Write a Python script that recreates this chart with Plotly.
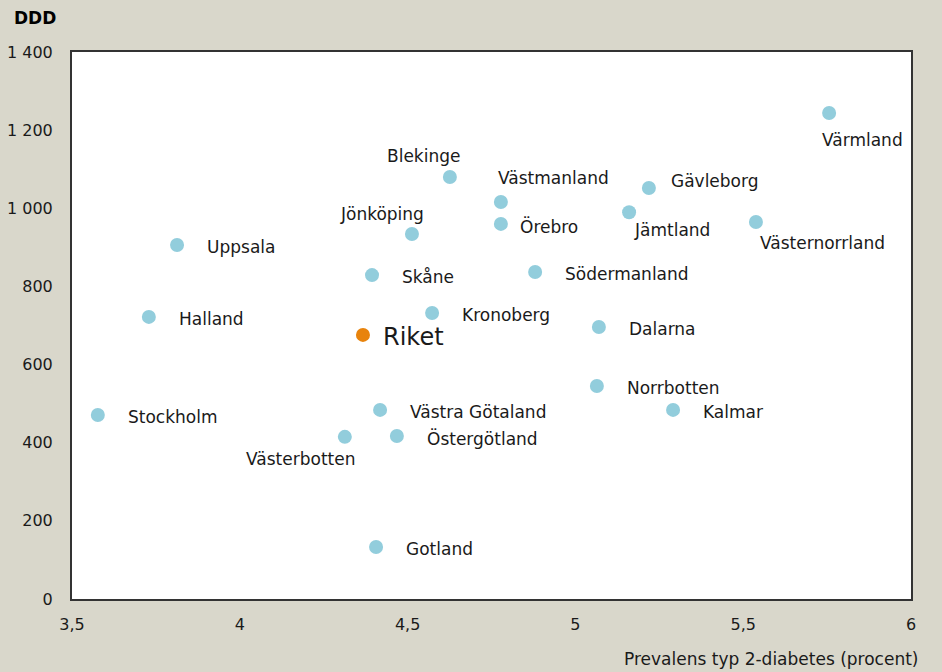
import plotly.graph_objects as go

# Län, prevalens typ 2-diabetes (procent) och DDD
regions = ['Värmland', 'Gävleborg', 'Västernorrland', 'Jämtland', 'Blekinge',
           'Västmanland', 'Örebro', 'Jönköping', 'Uppsala', 'Skåne',
           'Södermanland', 'Halland', 'Kronoberg', 'Dalarna', 'Norrbotten',
           'Kalmar', 'Stockholm', 'Västra Götaland', 'Östergötland',
           'Västerbotten', 'Gotland']
prevalence = [5.756, 5.219, 5.538, 5.160, 4.626,
              4.778, 4.778, 4.513, 3.813, 4.394,
              4.880, 3.729, 4.573, 5.070, 5.064,
              5.291, 3.577, 4.418, 4.468,
              4.313, 4.406]
ddd = [1244, 1052, 965, 990, 1080,
       1016, 960, 934, 906, 829,
       837, 722, 732, 696, 545,
       484, 471, 484, 417,
       415, 133]

riket_prevalence = 4.367
riket_ddd = 676

# etikettplacering (xanchor, xshift, yshift) i pixlar
label_pos = {
    'Värmland': ('center', 33, -27),
    'Gävleborg': ('left', 20, 7),
    'Västernorrland': ('left', 2, -21),
    'Jämtland': ('left', 3, -18),
    'Blekinge': ('center', -26, 21),
    'Västmanland': ('left', -5, 24),
    'Örebro': ('left', 17, -3),
    'Jönköping': ('center', -30, 20),
    'Västerbotten': ('center', -44, -22),
}

FONT = 'DejaVu Sans'
BG = '#D9D7CB'
BLUE = '#92CDDC'
ORANGE = '#E8830C'
TXT = '#1a1a1a'

fig = go.Figure()

fig.add_trace(go.Scatter(
    x=prevalence, y=ddd, mode='markers',
    marker=dict(size=14, color=BLUE),
    text=regions, hoverinfo='text+x+y', showlegend=False
))

fig.add_trace(go.Scatter(
    x=[riket_prevalence], y=[riket_ddd], mode='markers',
    marker=dict(size=14, color=ORANGE),
    text=['Riket'], hoverinfo='text+x+y', showlegend=False
))

for name, px_, py_ in zip(regions, prevalence, ddd):
    anchor, dx, dy = label_pos.get(name, ('left', 28, -2))
    fig.add_annotation(
        x=px_, y=py_, text=name, showarrow=False,
        xanchor=anchor, yanchor='middle', xshift=dx, yshift=dy,
        font=dict(family=FONT, size=17, color=TXT)
    )

fig.add_annotation(
    x=riket_prevalence, y=riket_ddd, text='Riket', showarrow=False,
    xanchor='left', yanchor='middle', xshift=18, yshift=-2,
    font=dict(family=FONT, size=24, color=TXT)
)

# axeltitlar
fig.add_annotation(
    x=-0.0715, y=1.062, xref='paper', yref='paper', text='<b>DDD</b>',
    showarrow=False, xanchor='left', yanchor='middle',
    font=dict(family=FONT, size=17, color='#000000')
)
fig.add_annotation(
    x=1.0107, y=-0.1097, xref='paper', yref='paper',
    text='Prevalens typ 2-diabetes (procent)',
    showarrow=False, xanchor='right', yanchor='middle',
    font=dict(family=FONT, size=17, color=TXT)
)

fig.update_layout(
    width=942, height=672,
    paper_bgcolor=BG, plot_bgcolor='white',
    margin=dict(l=72, r=31, t=52, b=73, autoexpand=False),
    separators=', ',
    font=dict(family=FONT, size=16, color=TXT),
    xaxis=dict(range=[3.5, 6], dtick=0.5, tick0=3.5, showgrid=False,
               zeroline=False, showline=True, linecolor='#333333',
               linewidth=2, mirror=True, ticks='', ticklabelstandoff=10,
               automargin=False),
    yaxis=dict(range=[0, 1400], dtick=200, showgrid=False, zeroline=False,
               showline=True, linecolor='#333333', linewidth=2, mirror=True,
               ticks='', separatethousands=True, ticklabelstandoff=14,
               automargin=False),
)

fig.write_html("out.html",
               config={'displayModeBar': False},
               post_script="document.body.style.margin='0';"
                           "document.body.style.overflow='hidden';")
